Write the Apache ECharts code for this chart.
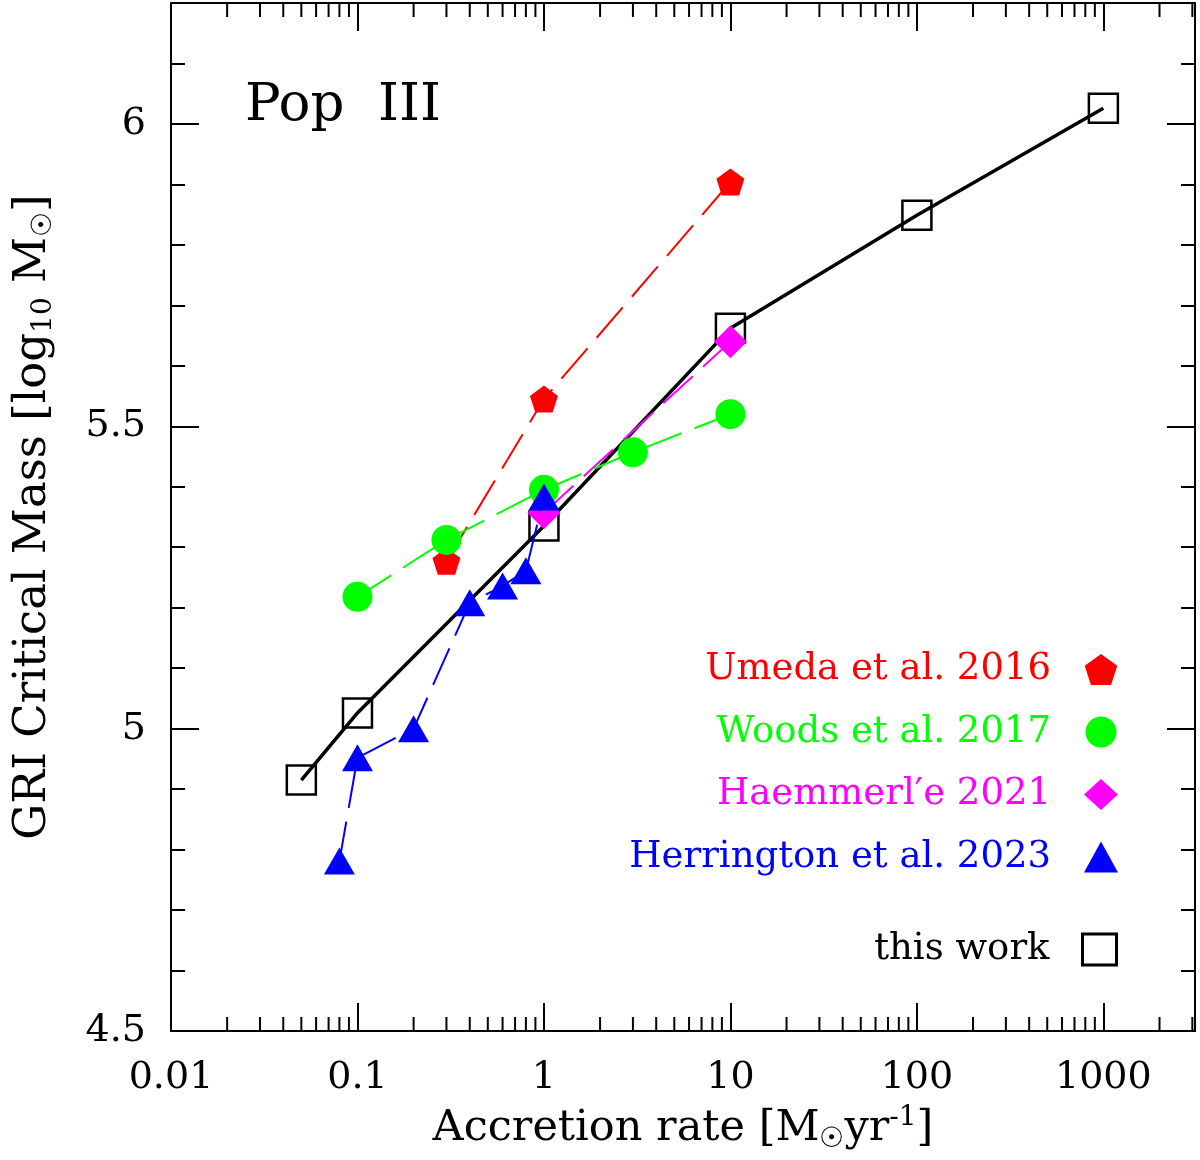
<!DOCTYPE html>
<html>
<head>
<meta charset="UTF-8">
<title>GRI critical mass - Pop III</title>
<script src="https://cdn.jsdelivr.net/npm/echarts@6.0.0/dist/echarts.min.js"></script>
<style>
  html, body { margin: 0; padding: 0; background: #fff; }
  #main { width: 1200px; height: 1160px; }
</style>
</head>
<body>
<div id="main"></div>
<script>
// values: accretion rate [Msun/yr] vs log10 critical mass
var thisWorkRate = [0.05, 0.1, 1, 10, 100, 1000];
var thisWorkMass = [4.915, 5.026, 5.335, 5.662, 5.849, 6.026];

var umedaRate = [0.3, 1, 10];
var umedaMass = [5.277, 5.545, 5.904];

var woodsRate = [0.1, 0.3, 1, 3, 10];
var woodsMass = [5.218, 5.312, 5.395, 5.457, 5.520];

var haemRate = [1, 10];
var haemMass = [5.357, 5.640];

var herrRate = [0.08, 0.1, 0.2, 0.4, 0.6, 0.8, 1];
var herrMass = [4.781, 4.952, 5.0, 5.208, 5.236, 5.261, 5.383];

var xTickLabels = ['0.01', '0.1', '1', '10', '100', '1000'];
var yTickLabels = ['4.5', '5', '5.5', '6'];

var FONT = 'DejaVu Serif';
var PENTAGON = 'path://M0,-1 L0.951,-0.309 L0.588,0.809 L-0.588,0.809 L-0.951,-0.309 Z';
var DASH = [40, 14];

function pairs(xs, ys) {
    return xs.map(function (x, i) { return [x, ys[i]]; });
}

// minor ticks of the log axis (2..9 in every decade)
var minorX = [];
for (var e = -2; e <= 3; e++) {
    for (var k = 2; k <= 9; k++) {
        var v = +(k * Math.pow(10, e)).toPrecision(3);
        if (v < 3100) minorX.push([v, 4.5]);
    }
}

function renderMinorTick(params, api) {
    var b = api.coord([api.value(0), 4.5]);
    var t = api.coord([api.value(0), 6.2]);
    var st = { stroke: '#000', lineWidth: 2 };
    return {
        type: 'group',
        children: [
            { type: 'line', shape: { x1: b[0], y1: b[1], x2: b[0], y2: b[1] - 14 }, style: st },
            { type: 'line', shape: { x1: t[0], y1: t[1], x2: t[0], y2: t[1] + 14 }, style: st }
        ]
    };
}

function xLabel(v) {
    var s = String(+(+v).toPrecision(6));
    return xTickLabels.indexOf(s) >= 0 ? s : '';
}
function yLabel(v) {
    var s = String(+(+v).toPrecision(6));
    return yTickLabels.indexOf(s) >= 0 ? s : '';
}

var axisLine = { lineStyle: { color: '#000', width: 2 } };
var axisTick = { inside: true, length: 28, lineStyle: { color: '#000', width: 2 } };

var subStyle = { fontFamily: FONT, fontSize: 28, lineHeight: 28, verticalAlign: 'bottom', color: '#000' };
var supStyle = { fontFamily: FONT, fontSize: 28, lineHeight: 28, verticalAlign: 'top', color: '#000' };

var option = {
    animation: false,
    backgroundColor: '#fff',
    grid: { left: 168, right: 5, top: 3, bottom: 129 },
    xAxis: [
        {
            type: 'log', logBase: 10, min: 0.01, max: 3100, position: 'bottom',
            axisLine: axisLine, axisTick: axisTick, splitLine: { show: false },
            axisLabel: { fontFamily: FONT, fontSize: 38, lineHeight: 38, color: '#000', margin: 28, formatter: xLabel },
            name: 'Accretion rate [M{sub|☉}yr{sup|-1}]',
            nameLocation: 'middle', nameGap: 73,
            nameTextStyle: { fontFamily: FONT, fontSize: 43, lineHeight: 50, color: '#000', rich: { sub: subStyle, sup: supStyle } }
        },
        {
            type: 'log', logBase: 10, min: 0.01, max: 3100, position: 'top',
            axisLine: axisLine, axisTick: axisTick, splitLine: { show: false },
            axisLabel: { show: false }
        }
    ],
    yAxis: [
        {
            type: 'value', min: 4.5, max: 6.2, interval: 0.5, position: 'left',
            axisLine: axisLine, axisTick: axisTick, splitLine: { show: false },
            minorTick: { show: true, splitNumber: 5, length: 14, lineStyle: { color: '#000', width: 2 } },
            axisLabel: { fontFamily: FONT, fontSize: 38, lineHeight: 38, color: '#000', margin: 25,
                         padding: [12, 0, 0, 0], showMaxLabel: false, formatter: yLabel },
            name: 'GRI Critical Mass [log{sub|10} M{sub|☉}]',
            nameLocation: 'middle', nameGap: 113, nameRotate: 90,
            nameTextStyle: { fontFamily: FONT, fontSize: 45, lineHeight: 50, color: '#000', rich: { sub: subStyle } }
        },
        {
            type: 'value', min: 4.5, max: 6.2, interval: 0.5, position: 'right',
            axisLine: axisLine, axisTick: axisTick, splitLine: { show: false },
            minorTick: { show: true, splitNumber: 5, length: 14, lineStyle: { color: '#000', width: 2 } },
            axisLabel: { show: false }
        }
    ],
    legend: [
        {
            orient: 'vertical', right: 77, top: 646, align: 'right',
            itemWidth: 34, itemHeight: 31, itemGap: 25.5, selectedMode: false,
            textStyle: { fontFamily: FONT, fontSize: 37, lineHeight: 31, padding: [0, 28, 0, 0] },
            data: [
                { name: 'Umeda et al. 2016', icon: PENTAGON, textStyle: { color: '#ff0000' } },
                { name: 'Woods et al. 2017', icon: 'circle', textStyle: { color: '#00ff00' } },
                { name: 'Haemmerl′e 2021', icon: 'diamond', textStyle: { color: '#ff00ff' } },
                { name: 'Herrington et al. 2023', icon: 'triangle', textStyle: { color: '#0000ff' } }
            ]
        },
        {
            orient: 'vertical', right: 77, top: 926, align: 'right',
            itemWidth: 34, itemHeight: 31, selectedMode: false,
            textStyle: { fontFamily: FONT, fontSize: 37, lineHeight: 31, padding: [0, 28, 0, 0], color: '#000' },
            data: [
                { name: 'this work', icon: 'rect',
                  itemStyle: { color: 'rgba(0,0,0,0)', borderColor: '#000', borderWidth: 3 } }
            ]
        }
    ],
    graphic: [
        { type: 'text', x: 245, y: 106,
          style: { text: 'Pop  III', fontFamily: FONT, fontSize: 53, fill: '#000', verticalAlign: 'middle' } }
    ],
    series: [
        {
            name: 'minor ticks', type: 'custom', silent: true, renderItem: renderMinorTick,
            data: minorX, z: 1
        },
        {
            name: 'this work', type: 'line', data: pairs(thisWorkRate, thisWorkMass),
            symbol: 'rect', symbolSize: 29, showAllSymbol: true,
            itemStyle: { color: 'rgba(0,0,0,0)', borderColor: '#000', borderWidth: 2.5 },
            lineStyle: { color: '#000', width: 3.5 },
            emphasis: { disabled: true }, z: 2
        },
        {
            name: 'Umeda et al. 2016', type: 'line', data: pairs(umedaRate, umedaMass),
            symbol: PENTAGON, symbolSize: [28, 27],
            itemStyle: { color: '#ff0000' },
            lineStyle: { color: '#ff0000', width: 2, type: DASH },
            emphasis: { disabled: true }, z: 3
        },
        {
            name: 'Woods et al. 2017', type: 'line', data: pairs(woodsRate, woodsMass),
            symbol: 'circle', symbolSize: 30,
            itemStyle: { color: '#00ff00' },
            lineStyle: { color: '#00ff00', width: 2, type: DASH },
            emphasis: { disabled: true }, z: 4
        },
        {
            name: 'Haemmerl′e 2021', type: 'line', data: pairs(haemRate, haemMass),
            symbol: 'diamond', symbolSize: 33,
            itemStyle: { color: '#ff00ff' },
            lineStyle: { color: '#ff00ff', width: 2, type: DASH },
            emphasis: { disabled: true }, z: 5
        },
        {
            name: 'Herrington et al. 2023', type: 'line', data: pairs(herrRate, herrMass),
            symbol: 'triangle', symbolSize: [31, 27],
            itemStyle: { color: '#0000ff' },
            lineStyle: { color: '#0000ff', width: 2, type: DASH },
            emphasis: { disabled: true }, z: 6
        }
    ]
};

var chart = echarts.init(document.getElementById('main'));
chart.setOption(option);
</script>
</body>
</html>
